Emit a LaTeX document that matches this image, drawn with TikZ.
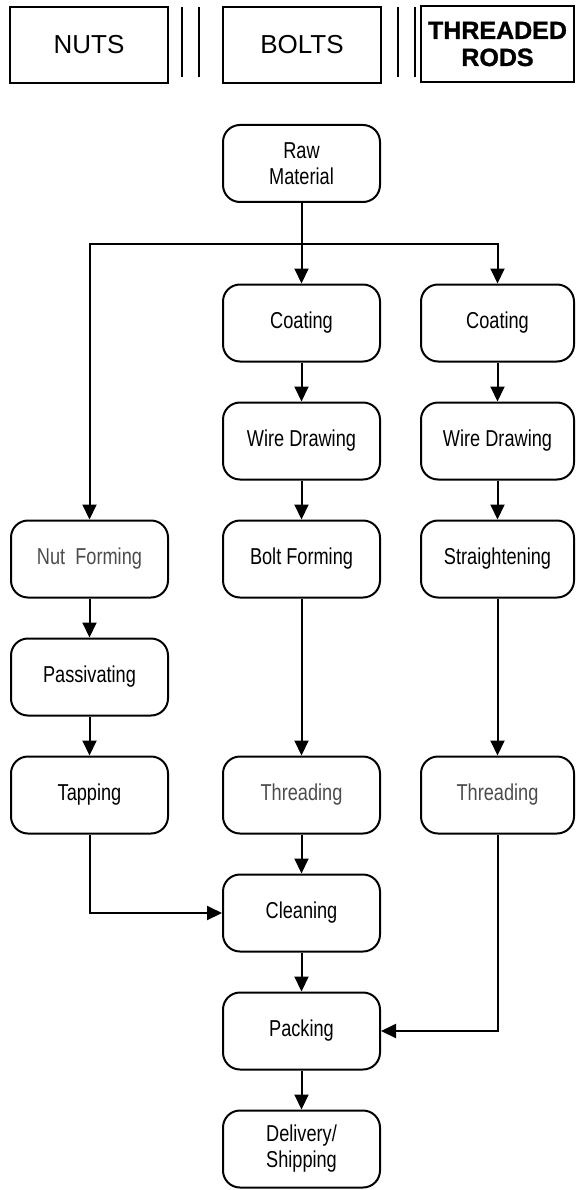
\documentclass[tikz,border=0pt]{standalone}
\usepackage{fontspec}
\setmainfont{Liberation Sans}
\newfontfamily\narrowfont[FakeStretch=0.79]{Liberation Sans}
\newfontfamily\heavyfont[FakeBold=1.2]{Liberation Sans Bold}
\usetikzlibrary{shapes,arrows.meta,positioning}

\begin{document}
\begin{tikzpicture}[x=1pt, y=-1pt, node distance=118pt, auto,
    flow/.style={draw, rounded corners=17pt, line width=2pt, minimum width=157pt, minimum height=77pt, align=center, font=\narrowfont\fontsize{23}{26}\selectfont},
    faint/.style={text=black!70},
    head/.style={draw, rectangle, line width=2pt, minimum width=158pt, minimum height=76pt, align=center, font=\fontsize{26}{27}\selectfont},
    arr/.style={-{Triangle[length=15pt,width=14pt]}, line width=2pt}]
    \useasboundingbox (0,0) rectangle (575,1190);

    \node [head] (nuts) at (89,45) {NUTS};
    \node [head] (bolts) at (302,45) {BOLTS};
    \node [head, minimum width=153pt, font=\heavyfont\fontsize{25}{27}\selectfont] (rods) at (497.5,44) {THREADED\\RODS};
    \draw [line width=2pt] (182,7) -- (182,77) (199,7) -- (199,77);
    \draw [line width=2pt] (398,7) -- (398,77) (415,7) -- (415,77);

    \node [flow] (raw) at (301.5,163.5) {Raw\\Material};
    \node [flow, below of=raw, node distance=159.5pt] (coat1) {Coating};
    \node [flow, below of=coat1] (wire1) {Wire Drawing};
    \node [flow, below of=wire1] (bform) {Bolt Forming};
    \node [flow, faint, below of=bform, node distance=236pt] (thread1) {Threading};
    \node [flow, below of=thread1] (clean) {Cleaning};
    \node [flow, below of=clean] (pack) {Packing};
    \node [flow, below of=pack] (deliv) {Delivery/\\Shipping};

    \node [flow, minimum width=153pt, right of=coat1, node distance=196pt] (coat2) {Coating};
    \node [flow, minimum width=153pt, below of=coat2] (wire2) {Wire Drawing};
    \node [flow, minimum width=153pt, below of=wire2] (straight) {Straightening};
    \node [flow, faint, minimum width=153pt, below of=straight, node distance=236pt] (thread2) {Threading};

    \node [flow, faint, left of=bform, node distance=212pt] (nform) {Nut\ \ Forming};
    \node [flow, below of=nform] (passiv) {Passivating};
    \node [flow, below of=passiv] (tap) {Tapping};

    \coordinate (fork) at (301.5,244);
    \draw [arr] (raw) -- (coat1);
    \draw [arr] (fork) -| (coat2);
    \draw [arr] (fork) -| (nform);
    \draw [arr] (coat1) -- (wire1);
    \draw [arr] (wire1) -- (bform);
    \draw [arr] (bform) -- (thread1);
    \draw [arr] (coat2) -- (wire2);
    \draw [arr] (wire2) -- (straight);
    \draw [arr] (straight) -- (thread2);
    \draw [arr] (nform) -- (passiv);
    \draw [arr] (passiv) -- (tap);
    \draw [arr] (tap) |- (clean);
    \draw [arr] (thread1) -- (clean);
    \draw [arr] (clean) -- (pack);
    \draw [arr] (thread2) |- (pack);
    \draw [arr] (pack) -- (deliv);
\end{tikzpicture}
\end{document}
